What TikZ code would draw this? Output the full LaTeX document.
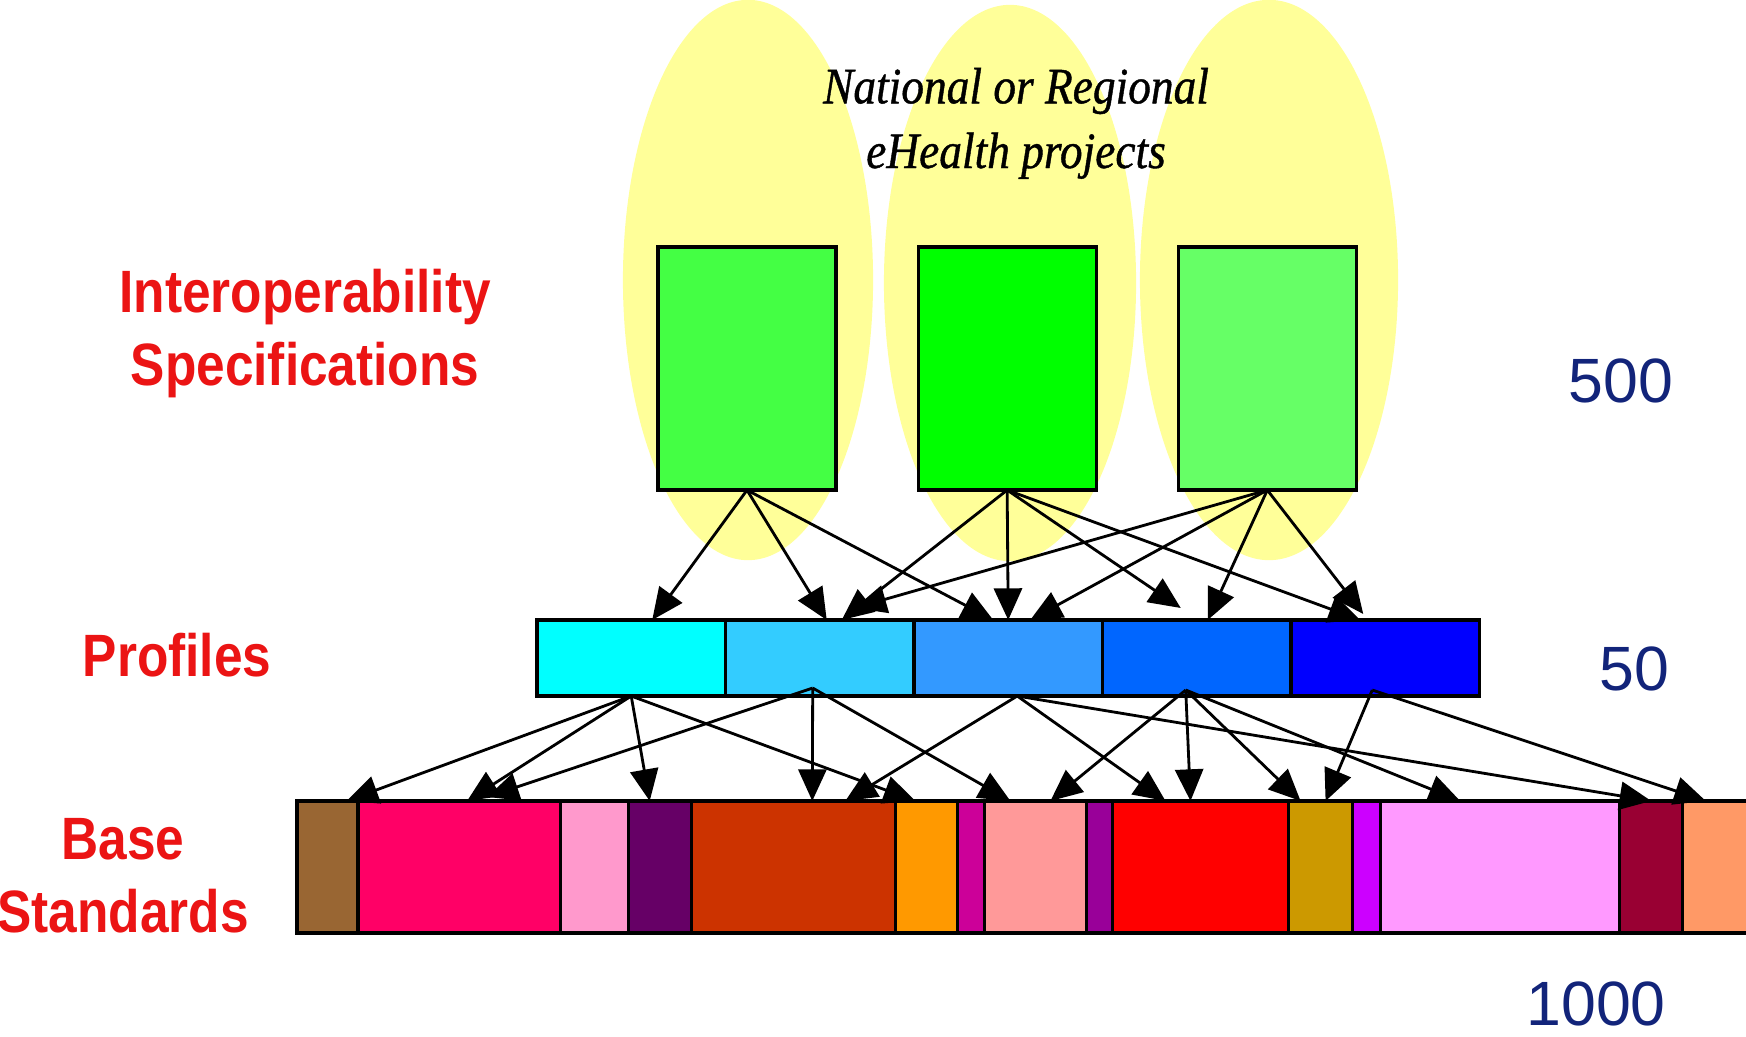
\documentclass[tikz,border=0pt]{standalone}
\usepackage{fontspec}
\setmainfont{Liberation Sans}
\newfontfamily\labelfont[FakeStretch=0.86]{Liberation Sans}
\newfontfamily\titlefont[FakeStretch=0.89, FakeBold=0.8]{Liberation Serif}
\usetikzlibrary{shapes,arrows,positioning,calc,arrows.meta}

\definecolor{ovalyellow}{HTML}{FFFF99}
\definecolor{labelred}{RGB}{235,20,20}
\definecolor{countblue}{RGB}{18,36,122}
\definecolor{greenA}{HTML}{44FF44}
\definecolor{greenB}{HTML}{00FF00}
\definecolor{greenC}{HTML}{66FF66}
\definecolor{profA}{HTML}{00FFFF}
\definecolor{profB}{HTML}{33CCFF}
\definecolor{profC}{HTML}{3399FF}
\definecolor{profD}{HTML}{0066FF}
\definecolor{profE}{HTML}{0000FF}
\definecolor{stdA}{HTML}{996633}
\definecolor{stdB}{HTML}{FF0066}
\definecolor{stdC}{HTML}{FF99CC}
\definecolor{stdD}{HTML}{660066}
\definecolor{stdE}{HTML}{CC3300}
\definecolor{stdF}{HTML}{FF9900}
\definecolor{stdG}{HTML}{CC0099}
\definecolor{stdH}{HTML}{FF9999}
\definecolor{stdI}{HTML}{990099}
\definecolor{stdJ}{HTML}{FF0000}
\definecolor{stdK}{HTML}{CC9900}
\definecolor{stdL}{HTML}{CC00FF}
\definecolor{stdM}{HTML}{FF99FF}
\definecolor{stdN}{HTML}{990033}
\definecolor{stdO}{HTML}{FF9966}

\begin{document}
\begin{tikzpicture}[x=0.01cm, y=-0.01cm, line width=0.8pt, >={Triangle[length=9pt, width=8pt]},
    projoval/.style={ellipse, fill=ovalyellow, inner sep=0pt},
    specbox/.style={rectangle, draw, line width=0.9pt, minimum width=1.78cm, minimum height=2.43cm, inner sep=0pt, outer sep=0pt},
    segbox/.style={rectangle, draw, line width=0.9pt, inner sep=0pt, outer sep=0pt},
    profbox/.style={segbox, minimum width=1.884cm, minimum height=0.76cm},
    stdbox/.style={segbox, minimum height=1.32cm},
    tierlabel/.style={text=labelred, font=\labelfont\bfseries\fontsize{17}{20.5}\selectfont, align=center, anchor=base},
    tiercount/.style={text=countblue, font=\fontsize{17.8}{20}\selectfont, anchor=base}]
    \useasboundingbox (0,0) rectangle (1746,1036);
    \clip (0,0) rectangle (1746,1036);

    % projects
    \node (proj1) [projoval, minimum width=2.50cm, minimum height=5.60cm] at (748,280) {};
    \node (proj2) [projoval, minimum width=2.52cm, minimum height=5.56cm] at (1010,283) {};
    \node (proj3) [projoval, minimum width=2.58cm, minimum height=5.60cm] at (1269,280) {};
    \node (projects) [font=\titlefont\itshape\fontsize{14.5}{18.4}\selectfont, align=center, anchor=base] at (1016,168) {National or Regional\\eHealth projects};

    \node (spec1) [specbox, fill=greenA] at (747,368.5) {};
    \node (spec2) [specbox, fill=greenB, right=0.82cm of spec1] {};
    \node (spec3) [specbox, fill=greenC, right=0.82cm of spec2] {};

    % profiles
    \node (prof1) [profbox, fill=profA] at (631.2,658) {};
    \node (prof2) [profbox, fill=profB, right=0pt of prof1] {};
    \node (prof3) [profbox, fill=profC, right=0pt of prof2] {};
    \node (prof4) [profbox, fill=profD, right=0pt of prof3] {};
    \node (prof5) [profbox, fill=profE, right=0pt of prof4] {};

    % base standards
    \node (base1) [stdbox, minimum width=0.61cm, fill=stdA] at (327.5,867) {};
    \node (base2) [stdbox, minimum width=2.02cm, fill=stdB, right=0pt of base1] {};
    \node (base3) [stdbox, minimum width=0.68cm, fill=stdC, right=0pt of base2] {};
    \node (base4) [stdbox, minimum width=0.63cm, fill=stdD, right=0pt of base3] {};
    \node (base5) [stdbox, minimum width=2.04cm, fill=stdE, right=0pt of base4] {};
    \node (base6) [stdbox, minimum width=0.62cm, fill=stdF, right=0pt of base5] {};
    \node (base7) [stdbox, minimum width=0.27cm, fill=stdG, right=0pt of base6] {};
    \node (base8) [stdbox, minimum width=1.02cm, fill=stdH, right=0pt of base7] {};
    \node (base9) [stdbox, minimum width=0.26cm, fill=stdI, right=0pt of base8] {};
    \node (base10) [stdbox, minimum width=1.76cm, fill=stdJ, right=0pt of base9] {};
    \node (base11) [stdbox, minimum width=0.64cm, fill=stdK, right=0pt of base10] {};
    \node (base12) [stdbox, minimum width=0.28cm, fill=stdL, right=0pt of base11] {};
    \node (base13) [stdbox, minimum width=2.39cm, fill=stdM, right=0pt of base12] {};
    \node (base14) [stdbox, minimum width=0.63cm, fill=stdN, right=0pt of base13] {};
    \node (base15) [stdbox, minimum width=0.78cm, fill=stdO, right=0pt of base14] {};

    % labels
    \node (interop) [tierlabel] at (305,385) {Interoperability\\Specifications};
    \node (profiles) [tierlabel] at (177,676) {Profiles};
    \node (basestd) [tierlabel] at (123,932) {Base\\Standards};
    \node (n500) [tiercount] at (1621,402) {500};
    \node (n50) [tiercount] at (1634,690) {50};
    \node (n1000) [tiercount] at (1596,1025) {1000};

    % specifications -> profiles
    \draw [->] (spec1.south) -- ($(prof1.north)+(21,0)$);
    \draw [->] (spec1.south) -- ($(prof2.north)+(7,0)$);
    \draw [->] (spec1.south) -- ($(prof3.north)+(-15,0)$);
    \draw [->] (spec2.south) -- ($(prof2.north)+(22,0)$);
    \draw [->] (spec2.south) -- (prof3.north);
    \draw [->] (spec2.south) -- ($(prof4.north)+(-16,-12)$);
    \draw [->] (spec2.south) -- ($(prof5.north)+(-25,0)$);
    \draw [->] (spec3.south) -- ($(prof2.north)+(35,-12)$);
    \draw [->] (spec3.south) -- ($(prof3.north)+(22,0)$);
    \draw [->] (spec3.south) -- ($(prof4.north)+(11,0)$);
    \draw [->] (spec3.south) -- ($(prof5.north)+(-22,-6)$);

    % profiles -> base standards
    \draw [->] (prof1.south) -- ($(base1.north)+(19,0)$);
    \draw [->] (prof1.south) -- ($(base2.north)+(8,0)$);
    \draw [->] (prof1.south) -- ($(base4.north)+(-10,0)$);
    \draw [->] (prof1.south) -- ($(base6.north)+(-11,0)$);
    \draw [->] ($(prof2.south)+(-7,-8)$) -- ($(base2.north)+(28,-4)$);
    \draw [->] ($(prof2.south)+(-7,-8)$) -- ($(base5.north)+(19,0)$);
    \draw [->] ($(prof2.south)+(-7,-8)$) -- ($(base8.north)+(-25,0)$);
    \draw [->] ($(prof3.south)+(9,0)$) -- ($(base5.north)+(52,0)$);
    \draw [->] ($(prof3.south)+(9,0)$) -- ($(base10.north)+(-35,0)$);
    \draw [->] ($(prof3.south)+(9,0)$) -- (base14.north);
    \draw [->] ($(prof4.south)+(-11,-6)$) -- ($(base8.north)+(15,0)$);
    \draw [->] ($(prof4.south)+(-11,-6)$) -- ($(base10.north)+(-10,0)$);
    \draw [->] ($(prof4.south)+(-11,-6)$) -- ($(base11.north)+(-20,0)$);
    \draw [->] ($(prof4.south)+(-11,-6)$) -- ($(base13.north)+(-40,0)$);
    \draw [->] ($(prof5.south)+(-13,-6)$) -- ($(base11.north)+(5,0)$);
    \draw [->] ($(prof5.south)+(-13,-6)$) -- ($(base15.north)+(-16,0)$);
\end{tikzpicture}
\end{document}
